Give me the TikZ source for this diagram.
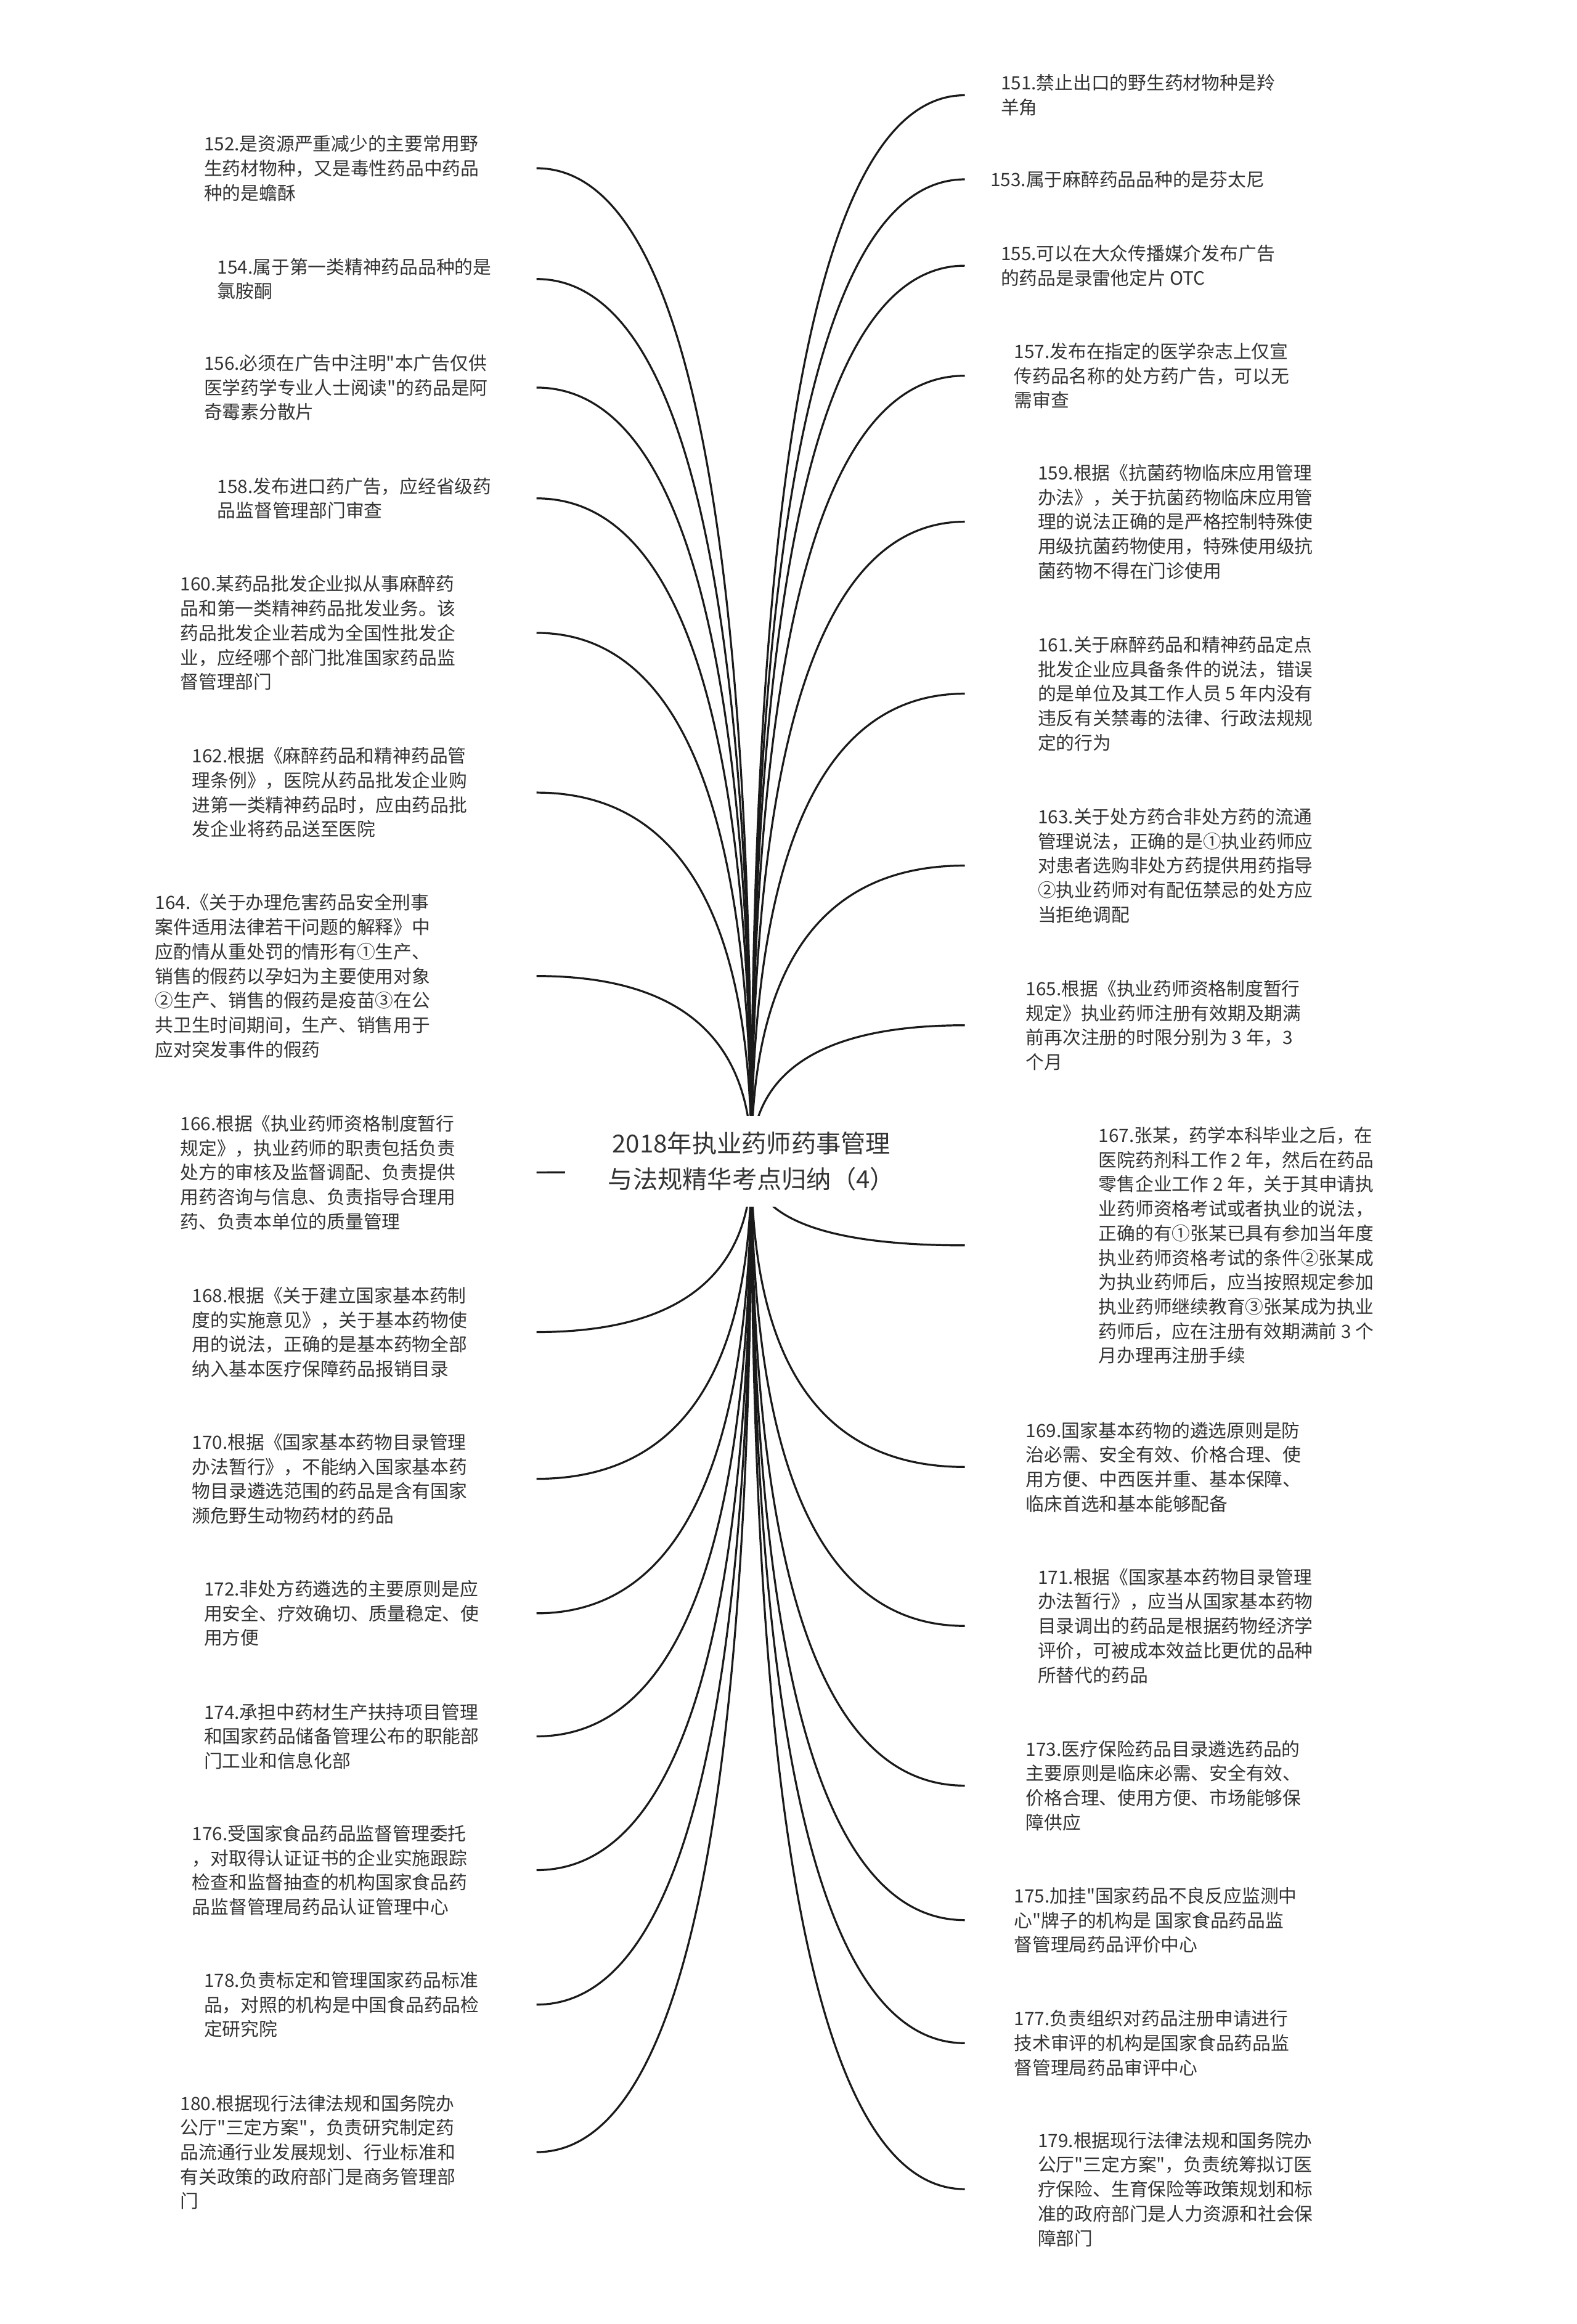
\documentclass[tikz,border=0pt]{standalone}
\usepackage{fontspec}
\newfontfamily\cjk{Noto Sans CJK SC}
\usetikzlibrary{calc}
\pgfdeclarelayer{bg}
\pgfsetlayers{bg,main}
\definecolor{txt}{HTML}{333333}
\definecolor{lnk}{HTML}{1A1A1A}
\tikzset{
  leaf/.style={font=\cjk\fontsize{8.8pt}{11.74pt}\selectfont, text=txt, inner ysep=0pt, align=left},
  lleaf/.style={leaf, anchor=east, inner xsep=0pt},
  rleaf/.style={leaf, anchor=west},
  rootbox/.style={font=\cjk\fontsize{11.9pt}{17pt}\selectfont, text=txt, fill=white,
    minimum width=6.275cm, minimum height=1.525cm, inner sep=0pt, align=center},
  conn/.style={draw=lnk, line width=0.95pt}
}
\newcommand\linkto[1]{\draw[conn] (root.center) .. controls ($(root.center)!0.6667!(root.center |- #1)$) and ($(#1)!0.6667!(root.center |- #1)$) .. (#1);}
\begin{document}
\begin{tikzpicture}[x=0.025cm, y=-0.025cm]
\useasboundingbox (0,0) rectangle (1064,1568);

\node[rootbox] (root) at (507,783.5) {2018年执业药师药事管理\\与法规精华考点归纳（4）};

% left leaves
\node[lleaf, text width=5.6cm] (n152) at (362,113.5) {152.是资源严重减少的主要常用野\\生药材物种，又是毒性药品中药品\\种的是蟾酥};
\node[lleaf, text width=5.375cm] (n154) at (362,188.25) {154.属于第一类精神药品品种的是\\氯胺酮};
\node[lleaf, text width=5.6cm] (n156) at (362,261.5) {156.必须在广告中注明"本广告仅供\\医学药学专业人士阅读"的药品是阿\\奇霉素分散片};
\node[lleaf, text width=5.375cm] (n158) at (362,336.25) {158.发布进口药广告，应经省级药\\品监督管理部门审查};
\node[lleaf, text width=6.0cm] (n160) at (362,427) {160.某药品批发企业拟从事麻醉药\\品和第一类精神药品批发业务。该\\药品批发企业若成为全国性批发企\\业，应经哪个部门批准国家药品监\\督管理部门};
\node[lleaf, text width=5.8cm] (n162) at (362,534.75) {162.根据《麻醉药品和精神药品管\\理条例》，医院从药品批发企业购\\进第一类精神药品时，应由药品批\\发企业将药品送至医院};
\node[lleaf, text width=6.425cm] (n164) at (362,658.5) {164.《关于办理危害药品安全刑事\\案件适用法律若干问题的解释》中\\应酌情从重处罚的情形有①生产、\\销售的假药以孕妇为主要使用对象\\②生产、销售的假药是疫苗③在公\\共卫生时间期间，生产、销售用于\\应对突发事件的假药};
\node[lleaf, text width=6.0cm] (n166) at (362,791) {166.根据《执业药师资格制度暂行\\规定》，执业药师的职责包括负责\\处方的审核及监督调配、负责提供\\用药咨询与信息、负责指导合理用\\药、负责本单位的质量管理};
\node[lleaf, text width=5.8cm] (n168) at (362,898.75) {168.根据《关于建立国家基本药制\\度的实施意见》，关于基本药物使\\用的说法，正确的是基本药物全部\\纳入基本医疗保障药品报销目录};
\node[lleaf, text width=5.8cm] (n170) at (362,997.75) {170.根据《国家基本药物目录管理\\办法暂行》，不能纳入国家基本药\\物目录遴选范围的药品是含有国家\\濒危野生动物药材的药品};
\node[lleaf, text width=5.6cm] (n172) at (362,1088.5) {172.非处方药遴选的主要原则是应\\用安全、疗效确切、质量稳定、使\\用方便};
\node[lleaf, text width=5.6cm] (n174) at (362,1171.5) {174.承担中药材生产扶持项目管理\\和国家药品储备管理公布的职能部\\门工业和信息化部};
\node[lleaf, text width=5.8cm] (n176) at (362,1261.75) {176.受国家食品药品监督管理委托\\，对取得认证证书的企业实施跟踪\\检查和监督抽查的机构国家食品药\\品监督管理局药品认证管理中心};
\node[lleaf, text width=5.6cm] (n178) at (362,1352.5) {178.负责标定和管理国家药品标准\\品，对照的机构是中国食品药品检\\定研究院};
\node[lleaf, text width=6.0cm] (n180) at (362,1452) {180.根据现行法律法规和国务院办\\公厅"三定方案"，负责研究制定药\\品流通行业发展规划、行业标准和\\有关政策的政府部门是商务管理部\\门};

% right leaves
\node[rleaf, inner xsep=0.6cm] (n151) at (651,64.25) {151.禁止出口的野生药材物种是羚\\羊角};
\node[rleaf, inner xsep=0.425cm] (n153) at (651,121) {153.属于麻醉药品品种的是芬太尼};
\node[rleaf, inner xsep=0.6cm] (n155) at (651,179.25) {155.可以在大众传播媒介发布广告\\的药品是录雷他定片 OTC};
\node[rleaf, inner xsep=0.825cm] (n157) at (651,253.5) {157.发布在指定的医学杂志上仅宣\\传药品名称的处方药广告，可以无\\需审查};
\node[rleaf, inner xsep=1.225cm] (n159) at (651,352) {159.根据《抗菌药物临床应用管理\\办法》，关于抗菌药物临床应用管\\理的说法正确的是严格控制特殊使\\用级抗菌药物使用，特殊使用级抗\\菌药物不得在门诊使用};
\node[rleaf, inner xsep=1.225cm] (n161) at (651,468) {161.关于麻醉药品和精神药品定点\\批发企业应具备条件的说法，错误\\的是单位及其工作人员 5 年内没有\\违反有关禁毒的法律、行政法规规\\定的行为};
\node[rleaf, inner xsep=1.225cm] (n163) at (651,584) {163.关于处方药合非处方药的流通\\管理说法，正确的是①执业药师应\\对患者选购非处方药提供用药指导\\②执业药师对有配伍禁忌的处方应\\当拒绝调配};
\node[rleaf, inner xsep=1.025cm] (n165) at (651,691.75) {165.根据《执业药师资格制度暂行\\规定》执业药师注册有效期及期满\\前再次注册的时限分别为 3 年，3\\个月};
\node[rleaf, inner xsep=2.25cm] (n167) at (651,840.25) {167.张某，药学本科毕业之后，在\\医院药剂科工作 2 年，然后在药品\\零售企业工作 2 年，关于其申请执\\业药师资格考试或者执业的说法，\\正确的有①张某已具有参加当年度\\执业药师资格考试的条件②张某成\\为执业药师后，应当按照规定参加\\执业药师继续教育③张某成为执业\\药师后，应在注册有效期满前 3 个\\月办理再注册手续};
\node[rleaf, inner xsep=1.025cm] (n169) at (651,989.75) {169.国家基本药物的遴选原则是防\\治必需、安全有效、价格合理、使\\用方便、中西医并重、基本保障、\\临床首选和基本能够配备};
\node[rleaf, inner xsep=1.225cm] (n171) at (651,1097) {171.根据《国家基本药物目录管理\\办法暂行》，应当从国家基本药物\\目录调出的药品是根据药物经济学\\评价，可被成本效益比更优的品种\\所替代的药品};
\node[rleaf, inner xsep=1.025cm] (n173) at (651,1204.75) {173.医疗保险药品目录遴选药品的\\主要原则是临床必需、安全有效、\\价格合理、使用方便、市场能够保\\障供应};
\node[rleaf, inner xsep=0.825cm] (n175) at (651,1295.5) {175.加挂"国家药品不良反应监测中\\心"牌子的机构是 国家食品药品监\\督管理局药品评价中心};
\node[rleaf, inner xsep=0.825cm] (n177) at (651,1378.5) {177.负责组织对药品注册申请进行\\技术审评的机构是国家食品药品监\\督管理局药品审评中心};
\node[rleaf, inner xsep=1.225cm] (n179) at (651,1477) {179.根据现行法律法规和国务院办\\公厅"三定方案"，负责统筹拟订医\\疗保险、生育保险等政策规划和标\\准的政府部门是人力资源和社会保\\障部门};

\begin{pgfonlayer}{bg}
\foreach \n in {152,154,156,158,160,162,164,166,168,170,172,174,176,178,180}{\linkto{n\n.east}}
\foreach \n in {151,153,155,157,159,161,163,165,167,169,171,173,175,177,179}{\linkto{n\n.west}}
\end{pgfonlayer}
\end{tikzpicture}
\end{document}
